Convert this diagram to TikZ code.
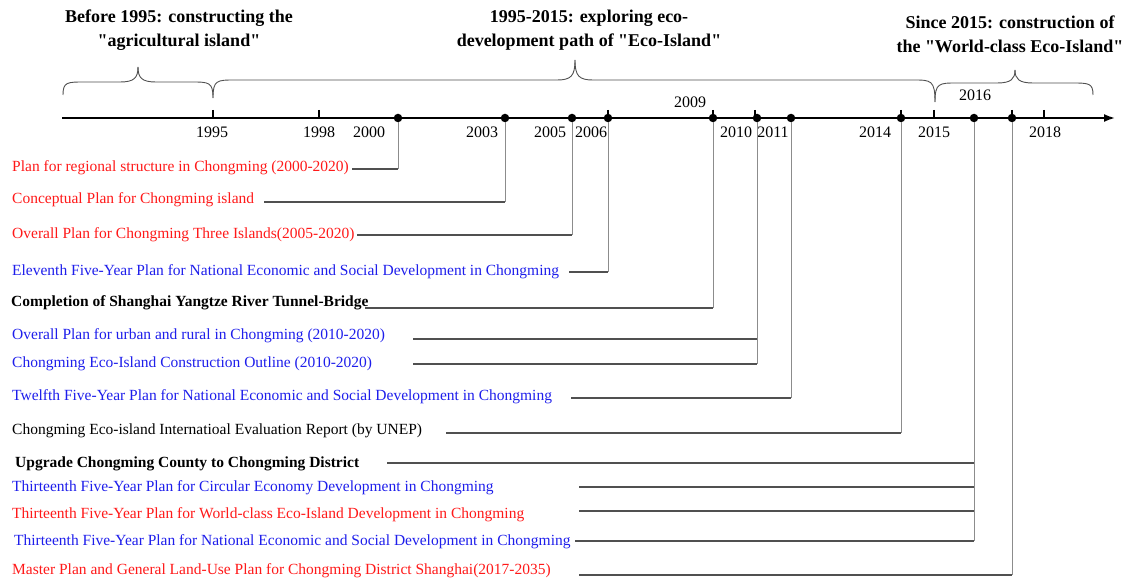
\documentclass[tikz,border=0pt]{standalone}
\usepackage{fontspec}
\setmainfont{Liberation Serif}
\usetikzlibrary{arrows.meta}
\definecolor{evred}{RGB}{255,25,25}
\definecolor{evblue}{RGB}{30,30,235}
\definecolor{hgray}{RGB}{80,80,80}
\definecolor{vgray}{RGB}{140,140,140}
\newcommand{\dq}{\textquotedbl}
\tikzset{
  dot/.style={circle,fill=black,inner sep=0,minimum size=8.5pt},
  yrlab/.style={font=\fontsize{16}{18}\selectfont,inner sep=0},
  ttl/.style={font=\fontsize{18}{24}\selectfont\bfseries,align=center,inner sep=0},
  evt/.style={font=\fontsize{15.5}{18}\selectfont,anchor=west,inner sep=0},
  hline/.style={draw=hgray,line width=1.3pt},
  vline/.style={draw=vgray,line width=1pt},
  brc/.style={draw=hgray,line width=0.9pt},
}
\begin{document}
\begin{tikzpicture}[x=1pt,y=-1pt]
\useasboundingbox (0,0) rectangle (1125,585);
\node[ttl] (p1) at (179,30) {Before 1995: constructing the\\\dq agricultural island\dq};
\node[ttl] (p2) at (589,30) {1995-2015: exploring eco-\\development path of \dq Eco-Island\dq};
\node[ttl] (p3) at (1010,34) {Since 2015: construction of\\the \dq World-class Eco-Island\dq};
\foreach \a/\ya/\t/\ty/\f/\b/\yb in {63/95/138/67/82/213/98,213/98/575/60/80/935/102,935/102/1015/70/83/1093/95} {
  \draw[brc] (\a,\ya) .. controls (\a,\f) and (\a+4,\f) .. (\a+22,\f) -- (\t-18,\f) .. controls (\t-4,\f) and (\t,\f-4) .. (\t,\ty);
  \draw[brc] (\t,\ty) .. controls (\t,\f-4) and (\t+4,\f) .. (\t+18,\f) -- (\b-22,\f) .. controls (\b-4,\f) and (\b,\f) .. (\b,\yb);
}
\draw[line width=1.8pt,-{Latex[length=11pt,width=8pt]}] (62,118) -- (1115,118);
\foreach \x in {213,319,608,713,755,901,934,1012,1044} \draw[line width=1.2pt] (\x,110) -- (\x,118);
\foreach \x/\yr in {212/1995,319/1998,369/2000,482/2003,550/2005,591/2006,736/2010,773/2011,875/2014,934/2015,1045/2018}
  \node[yrlab] (b\yr) at (\x,132) {\yr};
\node[yrlab] (a2009) at (690,102) {2009};
\node[yrlab] (a2016) at (975,95) {2016};
\foreach \x/\yr in {398/2000,505/2003,572/2005,608/2006,713/2009,757/2010,791/2011,901/2014,974/2016,1012/2017}
  \node[dot] (d\yr) at (\x,118) {};
\foreach \i/\tx/\ty/\c/\sx/\ly/\yr/\txt in {
  1/12/168/evred/352/169/2000/Plan for regional structure in Chongming (2000-2020),
  2/12/200/evred/264/202/2003/Conceptual Plan for Chongming island,
  3/12/235/evred/357/235/2005/Overall Plan for Chongming Three Islands(2005-2020),
  4/12/272/evblue/569/272/2006/Eleventh Five-Year Plan for National Economic and Social Development in Chongming,
  5/11/303/black/365/308/2009/{\bfseries Completion of Shanghai Yangtze River Tunnel-Bridge},
  6/12/336/evblue/413/339/2010/Overall Plan for urban and rural in Chongming (2010-2020),
  7/12/364/evblue/413/364/2010/Chongming Eco-Island Construction Outline (2010-2020),
  8/12/397/evblue/571/398/2011/Twelfth Five-Year Plan for National Economic and Social Development in Chongming,
  9/12/431/black/446/433/2014/Chongming Eco-island Internatioal Evaluation Report (by UNEP),
  10/15/464/black/387/463/2016/{\bfseries Upgrade Chongming County to Chongming District},
  11/12/488/evblue/579/487/2016/Thirteenth Five-Year Plan for Circular Economy Development in Chongming,
  12/12/515/evred/579/511/2016/Thirteenth Five-Year Plan for World-class Eco-Island Development in Chongming,
  13/14/542/evblue/575/541/2016/Thirteenth Five-Year Plan for National Economic and Social Development in Chongming,
  14/12/571/evred/579/575/2017/Master Plan and General Land-Use Plan for Chongming District Shanghai(2017-2035)} {
  \node[evt,text=\c] (e\i) at (\tx,\ty) {\txt};
  \coordinate (s\i) at (\sx,\ly);
  \draw[hline] (s\i) -- (s\i -| d\yr);
  \draw[vline] (d\yr) -- (d\yr |- s\i);
}
\end{tikzpicture}
\end{document}
